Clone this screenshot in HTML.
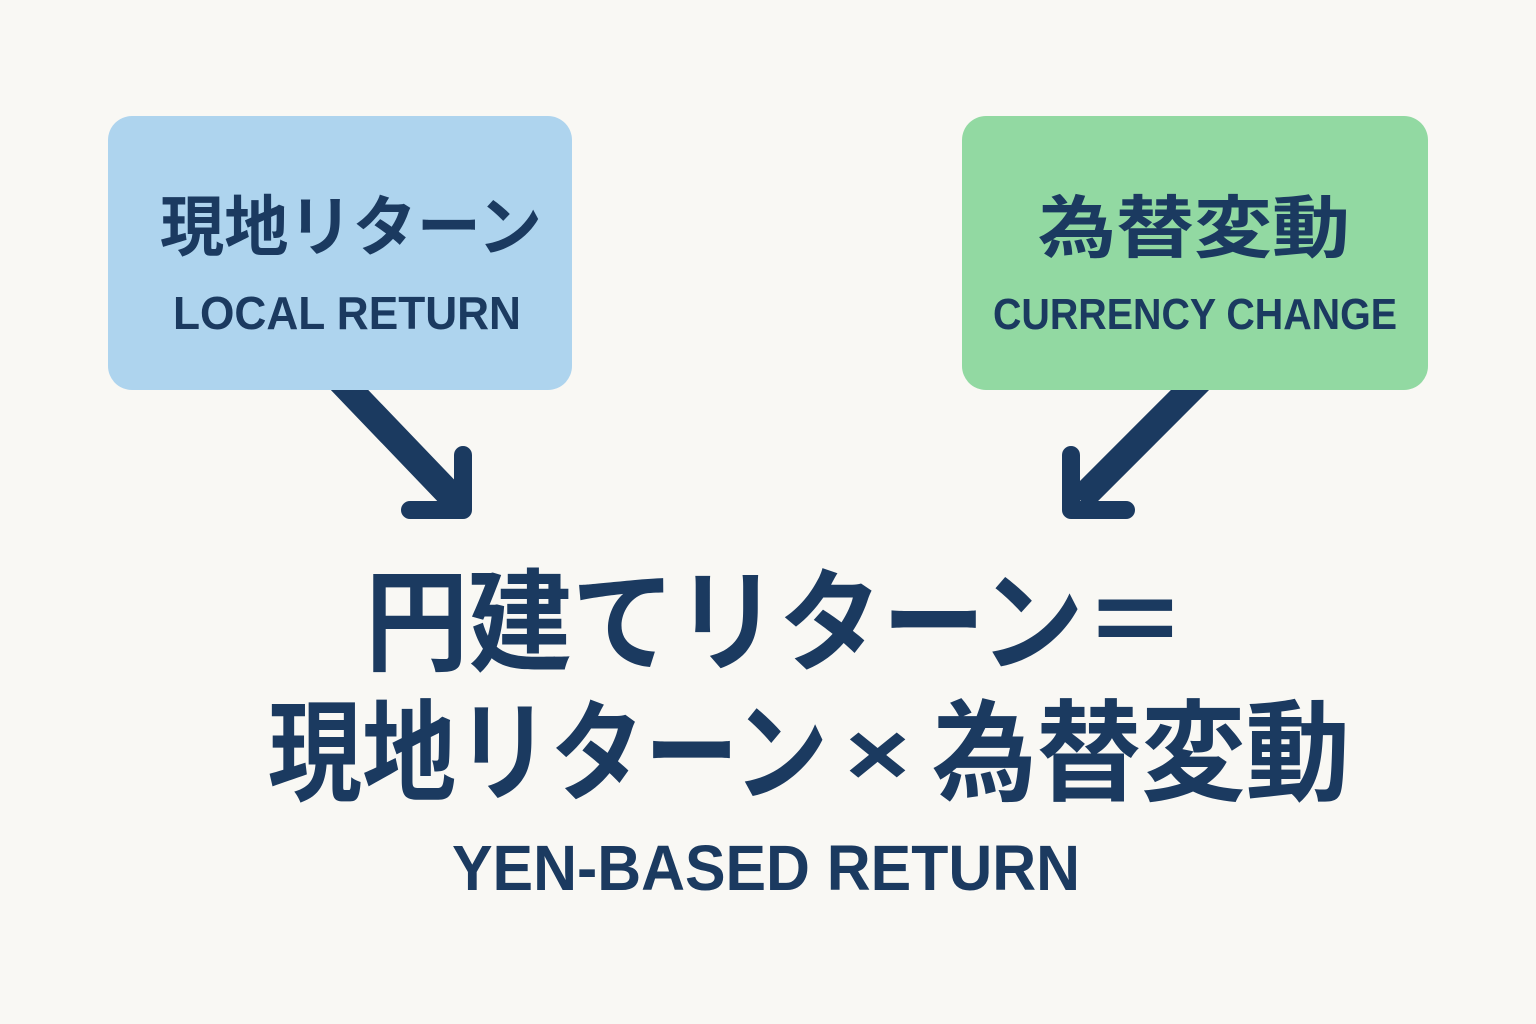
<!DOCTYPE html>
<html><head><meta charset="utf-8"><style>
html,body{margin:0;padding:0;background:#f9f8f4;}
svg{display:block}
text{font-family:"Liberation Sans","Noto Sans CJK JP",sans-serif;font-weight:bold;fill:#1b3a60;}
</style></head><body>
<svg width="1536" height="1024" viewBox="0 0 1536 1024">
<rect width="1536" height="1024" fill="#f9f8f4"/>
<g stroke="#1b3a60" fill="none" stroke-linecap="round" stroke-linejoin="round">
<line x1="340" y1="380" x2="455" y2="500" stroke-width="27" stroke-linecap="butt"/>
<polyline points="463,455 463,510 410,510" stroke-width="18"/>
<line x1="1200" y1="380" x2="1080" y2="500" stroke-width="27" stroke-linecap="butt"/>
<polyline points="1071,455 1071,510 1126,510" stroke-width="18"/>
</g>
<rect x="108" y="116" width="464" height="274" rx="24" fill="#aed4ee"/>
<rect x="962" y="116" width="466" height="274" rx="24" fill="#92d9a2"/>
<text x="160" y="250" font-size="66" textLength="382" lengthAdjust="spacingAndGlyphs">現地リターン</text>
<text x="173" y="329" font-size="46" textLength="348" lengthAdjust="spacingAndGlyphs">LOCAL RETURN</text>
<text x="1038" y="252" font-size="68" textLength="312" lengthAdjust="spacingAndGlyphs">為替変動</text>
<text x="993" y="329" font-size="44" textLength="404" lengthAdjust="spacingAndGlyphs">CURRENCY CHANGE</text>
<text x="365" y="662" font-size="112" textLength="822" lengthAdjust="spacingAndGlyphs">円建てリターン＝</text>
<text x="268" y="792" font-size="110" textLength="560" lengthAdjust="spacingAndGlyphs">現地リターン</text>
<text x="845" y="785" font-size="90" textLength="65" lengthAdjust="spacingAndGlyphs">×</text>
<text x="932" y="792" font-size="110" textLength="418" lengthAdjust="spacingAndGlyphs">為替変動</text>
<text x="452" y="890" font-size="64" textLength="628" lengthAdjust="spacingAndGlyphs">YEN-BASED RETURN</text>
</svg>
</body></html>
